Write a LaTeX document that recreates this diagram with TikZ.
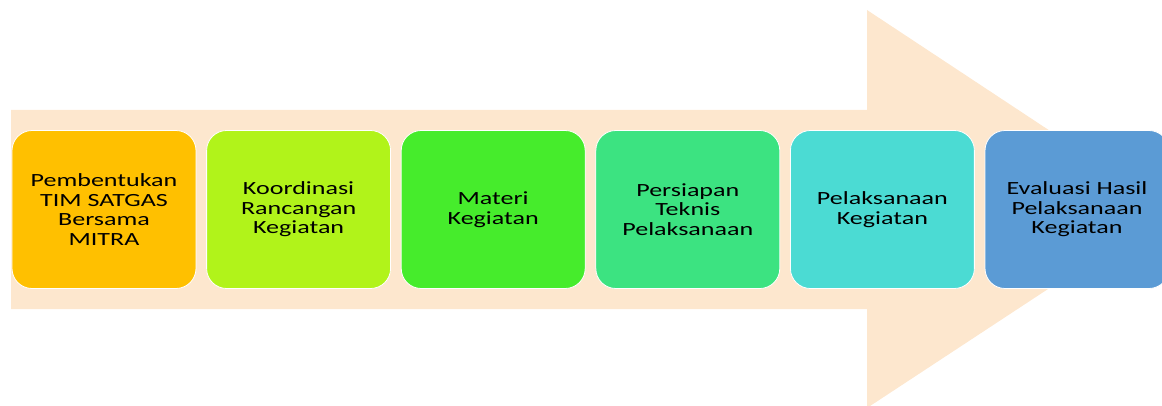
\documentclass[tikz,border=0pt]{standalone}
\usepackage{fontspec}
\setmainfont{Carlito}
\usepackage{tikz}
\usetikzlibrary{calc}

\definecolor{arrowfill}{HTML}{FDE7CE}
\definecolor{stgA}{HTML}{FFC000}
\definecolor{stgB}{HTML}{B1F31A}
\definecolor{stgC}{HTML}{46EC2C}
\definecolor{stgD}{HTML}{3CE381}
\definecolor{stgE}{HTML}{4BDBD3}
\definecolor{stgF}{HTML}{5B9BD5}

\tikzset{
	stage/.style={draw=white, line width=0.8pt, rounded corners=20pt,
		xscale=1.4, minimum width=131.4pt, minimum height=158pt,
		inner sep=0pt, align=center, text=black,
		font=\fontsize{18.6}{19.4}\selectfont}
}

\begin{document}
\begin{tikzpicture}[x=1pt, y=1pt]
		\def\mystages{{Pembentukan\\TIM SATGAS\\Bersama\\MITRA}/stgA,
			{Koordinasi\\Rancangan\\Kegiatan}/stgB,
			{Materi\\Kegiatan}/stgC,
			{Persiapan\\Teknis\\Pelaksanaan}/stgD,
			{Pelaksanaan\\Kegiatan}/stgE,
			{Evaluasi Hasil\\Pelaksanaan\\Kegiatan}/stgF}
		\def\pitch{194.6}
		\def\midy{195.5}
		
		\useasboundingbox (0,0) rectangle (1162,405);
		
		% big arrow behind the stages
		\fill[arrowfill]
		(11,96) -- (867,96) -- (867,-3) -- (1169,\midy) -- (867,395) -- (867,295) -- (11,295) -- cycle;
		
		% draw stages
		\foreach \lbl/\clr [count=\x] in \mystages {
			\draw (104+\x*\pitch-\pitch, \midy) node[stage, fill=\clr] (s\x) {\lbl};
		}
\end{tikzpicture}
\end{document}
